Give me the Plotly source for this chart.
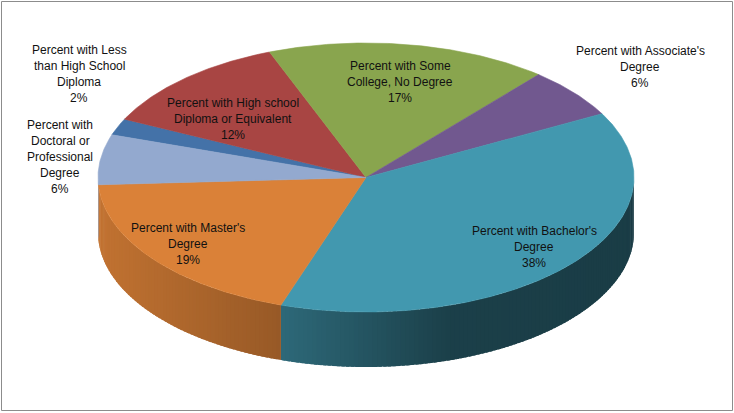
import numpy as np
import plotly.graph_objects as go

# ---- data ----
categories = [
    "Percent with Less than High School Diploma",
    "Percent with High school Diploma or Equivalent",
    "Percent with Some College, No Degree",
    "Percent with Associate's Degree",
    "Percent with Bachelor's Degree",
    "Percent with Master's Degree",
    "Percent with Doctoral or Professional Degree",
]
values = [2, 12, 17, 6, 38, 19, 6]
label_lines = [
    ["Percent with Less", "than High School", "Diploma"],
    ["Percent with High school", "Diploma or Equivalent"],
    ["Percent with Some", "College, No Degree"],
    ["Percent with Associate's", "Degree"],
    ["Percent with Bachelor's", "Degree"],
    ["Percent with Master's", "Degree"],
    ["Percent with", "Doctoral or", "Professional", "Degree"],
]

# ---- styles / layout ----
colors = ["#4472A8", "#A84543", "#89A54E", "#71588F", "#4298AF", "#DA8138", "#93A9CF"]
label_pos = [(79, 50), (233, 103), (400, 66), (640, 51), (534, 231), (188, 228), (60, 125)]
W, H = 734, 413
CX, CY, RX, RY, DEPTH = 366, 177.5, 268, 134.5, 55
START = -71.5  # degrees clockwise from 12 o'clock
LINE_H = 16


def hex2rgb(h):
    h = h.lstrip("#")
    return [int(h[i:i + 2], 16) for i in (0, 2, 4)]


def shade(hexcol, f):
    r, g, b = hex2rgb(hexcol)
    return "rgb(%d,%d,%d)" % (r * f, g * f, b * f)


def shade_at(i, x):
    f = float(np.interp(x, [98, 277, 450, 640], [0.89, 0.70, 0.42, 0.40]))
    return shade(colors[i], f)


def pt(theta_deg):
    t = np.radians(theta_deg)
    return CX + RX * np.sin(t), CY - RY * np.cos(t)


total = float(sum(values))
bounds = [START]
for v in values:
    bounds.append(bounds[-1] + v / total * 360.0)

fig = go.Figure()


def side_poly(t0, t1):
    ts = np.linspace(t0, t1, max(2, int((t1 - t0) * 2) + 1))
    xs, ys = pt(ts)
    X = np.concatenate([xs, xs[::-1], xs[:1]])
    Y = np.concatenate([ys, ys[::-1] + DEPTH, ys[:1]])
    return X, Y


# side walls (front half only: 90..270 deg)
for i, v in enumerate(values):
    a0, a1 = bounds[i], bounds[i + 1]
    for k in range(-1, 2):
        lo = max(a0 + 360 * k, 90)
        hi = min(a1 + 360 * k, 270)
        if hi <= lo:
            continue
        n = max(2, int(np.ceil((hi - lo) / 1.0)))
        edges = np.linspace(lo, hi, n + 1)
        for j in range(n):
            t0, t1 = edges[j], min(edges[j + 1] + 0.7, hi)
            x0, _ = pt(edges[j])
            x1, _ = pt(edges[j + 1])
            c = shade_at(i, (x0 + x1) / 2)
            X, Y = side_poly(t0, t1)
            fig.add_trace(go.Scatter(
                x=X, y=Y, mode="lines", fill="toself", fillcolor=c,
                line=dict(width=0), hoverinfo="skip", showlegend=False))

# top faces
for i, v in enumerate(values):
    a0, a1 = bounds[i], bounds[i + 1]
    ts = np.linspace(a0, a1, max(8, int((a1 - a0) * 2)))
    xs, ys = pt(ts)
    xs = np.concatenate([[CX], xs, [CX]])
    ys = np.concatenate([[CY], ys, [CY]])
    fig.add_trace(go.Scatter(
        x=xs, y=ys, mode="lines", fill="toself", fillcolor=colors[i],
        line=dict(color=colors[i], width=0.6),
        name=categories[i], hoverinfo="name", showlegend=False))

# labels
for i, v in enumerate(values):
    lx, ly = label_pos[i]
    lines = label_lines[i] + ["%d%%" % round(v / total * 100)]
    for j, s in enumerate(lines):
        fig.add_annotation(x=lx, y=ly + j * LINE_H, text=s, showarrow=False,
                           xref="x", yref="y", xanchor="center", yanchor="middle",
                           font=dict(family="Liberation Sans, Arial, sans-serif",
                                     size=12, color="#111111"))

fig.add_shape(type="rect", xref="x", yref="y", x0=1.5, y0=1.5, x1=732.5, y1=410.5,
              line=dict(color="#8c8c8c", width=1), fillcolor="rgba(0,0,0,0)")

fig.update_layout(
    width=W, height=H, margin=dict(l=0, r=0, t=0, b=0),
    paper_bgcolor="white", plot_bgcolor="white",
    xaxis=dict(range=[0, W], visible=False, fixedrange=True),
    yaxis=dict(range=[H, 0], visible=False, fixedrange=True),
    showlegend=False,
)

fig.write_html("out.html")
